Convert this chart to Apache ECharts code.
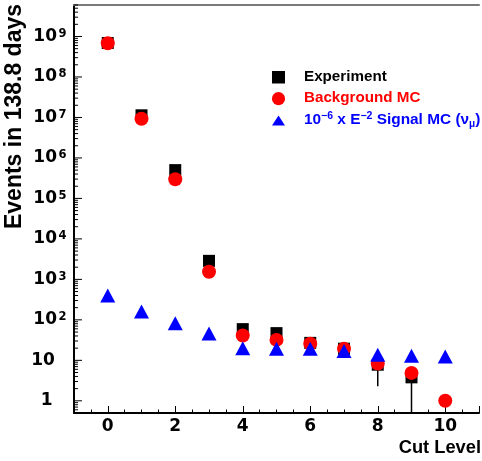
<!DOCTYPE html>
<html><head><meta charset="utf-8">
<script src="https://cdn.jsdelivr.net/npm/echarts@6/dist/echarts.min.js"></script>
<style>html,body{margin:0;padding:0;background:#fff}#c{width:482px;height:461px}</style>
</head><body><div id="c"></div>
<script>
// ---- data ----
const cutLevels  = [0, 1, 2, 3, 4, 5, 6, 7, 8, 9, 10];
const experiment = [6.9e8, 1.13e7, 5.0e5, 2870, 59, 47, 27, 19.4, 7.8, 3.8, null];
const background = [6.8e8, 9.3e6, 2.97e5, 1540, 41, 32, 25.6, 19.4, 8.3, 4.9, 1.0];
const signal     = [400, 161, 83, 46, 20, 19.3, 19.3, 17, 13.7, 13, 12.4];
const errCuts = [8, 9];
const errLow  = [2.3, 0.3];
const errHigh = [10.8, 5.9];
const xTickLabels = [0, 2, 4, 6, 8, 10];
const xRange = [-1, 11];
const yRange = [0.5, 6e9];
const yDecades = [-1, 0, 1, 2, 3, 4, 5, 6, 7, 8, 9];
const legendNames = ['Experiment', 'Background MC', '10{sup|\u22126} x E{sup|\u22122} Signal MC (\u03bd{sub|\u03bc})'];

const TFONT = '"DejaVu Sans", Verdana, sans-serif';
const FONT = '"Liberation Sans", Arial, Helvetica, sans-serif';
const lg = v => Math.log10(v);
const yMin = lg(yRange[0]), yMax = lg(yRange[1]);

function pts(arr) {
  const out = [];
  cutLevels.forEach((c, i) => { if (arr[i] != null) out.push([c, lg(arr[i])]); });
  return out;
}

const chart = echarts.init(document.getElementById('c'), null, {renderer: 'canvas'});
const option = {
  animation: false,
  backgroundColor: '#fff',
  grid: {left: 74, right: 0, top: 5, bottom: 48},
  xAxis: [
    {
      type: 'value', min: xRange[0], max: xRange[1], position: 'bottom',
      axisLine: {onZero: false, lineStyle: {color: '#000', width: 2}},
      axisTick: {inside: true, length: 7, lineStyle: {color: '#000', width: 1}},
      splitLine: {show: false},
      axisLabel: {
        margin: 5, color: '#000', fontFamily: TFONT, fontSize: 17, fontWeight: 'bold',
        formatter: v => xTickLabels.indexOf(v) >= 0 ? String(v) : ''
      }
    },
    {
      type: 'value', min: xRange[0], max: xRange[1], interval: 0.5, position: 'bottom',
      axisLine: {show: false, onZero: false},
      axisTick: {inside: true, length: 3.5, lineStyle: {color: '#000', width: 1}},
      axisLabel: {show: false}, splitLine: {show: false}
    },
    {
      type: 'value', min: xRange[0], max: xRange[1], position: 'top',
      axisLine: {onZero: false, lineStyle: {color: '#7a7a7a', width: 2}},
      axisTick: {show: false}, axisLabel: {show: false}, splitLine: {show: false}
    }
  ],
  yAxis: [{
    type: 'value', min: yMin, max: yMax, splitNumber: 10,
    axisLine: {onZero: false, lineStyle: {color: '#000', width: 2}},
    axisTick: {show: false},
    splitLine: {show: false},
    axisLabel: {
      margin: 7.5, color: '#000',
      formatter: v => {
        const n = Math.round(v);
        if (Math.abs(v - n) > 1e-6) return '';
        if (n === 0) return '{p1|1}';
        if (n === 1) return '{p10|10}';
        return '{b|10}{s|' + n + '}';
      },
      rich: {
        b:   {fontFamily: TFONT, fontSize: 17, fontWeight: 'bold', lineHeight: 17, color: '#000'},
        p10: {fontFamily: TFONT, fontSize: 17, fontWeight: 'bold', lineHeight: 17, color: '#000', padding: [0, 11.7, 0, 0]},
        p1:  {fontFamily: TFONT, fontSize: 17, fontWeight: 'bold', lineHeight: 17, color: '#000', padding: [0, 13.8, 0, 0]},
        s:   {fontFamily: TFONT, fontSize: 11.5, fontWeight: 'bold', lineHeight: 4, verticalAlign: 'top', color: '#000', padding: [0, 0, 0, 1.5]}
      }
    }
  }],
  graphic: [
    {type: 'text', x: 15, y: 4, rotation: Math.PI / 2, silent: true,
     style: {text: 'Events in 138.8 days', font: 'bold 23px ' + FONT, fill: '#000',
             align: 'right', verticalAlign: 'middle', textAlign: 'right', textVerticalAlign: 'middle'}},
    {type: 'text', x: 481, y: 448, silent: true,
     style: {text: 'Cut Level', font: 'bold 18.3px ' + FONT, fill: '#000',
             align: 'right', verticalAlign: 'middle', textAlign: 'right', textVerticalAlign: 'middle'}},
    // legend
    {type: 'rect', silent: true, shape: {x: 272, y: 71, width: 13, height: 12.5}, style: {fill: '#000'}},
    {type: 'circle', silent: true, shape: {cx: 278.5, cy: 98.7, r: 6.6}, style: {fill: '#ff0000'}},
    {type: 'polygon', silent: true, shape: {points: [[272, 125.5], [278.5, 115.5], [285, 125.5]]}, style: {fill: '#0000ff'}},
    {type: 'text', x: 304, y: 77, silent: true,
     style: {text: legendNames[0], font: 'bold 15.2px ' + FONT, fill: '#000', align: 'left', verticalAlign: 'middle'}},
    {type: 'text', x: 304, y: 98.3, silent: true,
     style: {text: legendNames[1], font: 'bold 15.2px ' + FONT, fill: '#ff0000', align: 'left', verticalAlign: 'middle'}},
    {type: 'text', x: 304, y: 119.8, silent: true,
     style: {text: legendNames[2], fontFamily: FONT, fontSize: 15.4, fontWeight: 'bold', lineHeight: 18, fill: '#0000ff', align: 'left', verticalAlign: 'middle',
             rich: {
               sup: {fontFamily: FONT, fontSize: 10.5, fontWeight: 'bold', lineHeight: 10, verticalAlign: 'top', fill: '#0000ff'},
               sub: {fontFamily: FONT, fontSize: 10, fontWeight: 'bold', lineHeight: 8, verticalAlign: 'bottom', fill: '#0000ff'}
             }}}
  ],
  series: [
    {
      name: 'yticks', type: 'custom', silent: true, clip: false, z: 5,
      data: yDecades.map(d => [xRange[0], d]),
      encode: {x: 0, y: 1},
      renderItem: (params, api) => {
        const d = api.value(1);
        const children = [];
        for (let k = 1; k <= 9; k++) {
          const v = d + Math.log10(k);
          if (v < yMin || v > yMax) continue;
          const p = api.coord([xRange[0], v]);
          const len = k === 1 ? 8 : 4;
          children.push({type: 'line', shape: {x1: p[0], y1: p[1], x2: p[0] + len, y2: p[1]},
                         style: {stroke: '#000', lineWidth: 1}});
        }
        return {type: 'group', children};
      }
    },
    {
      name: 'errors', type: 'custom', silent: true, clip: true, z: 1,
      data: errCuts.map((c, i) => [c, lg(errLow[i]), lg(errHigh[i])]),
      encode: {x: 0, y: [1, 2]},
      renderItem: (params, api) => {
        const a = api.coord([api.value(0), api.value(1)]);
        const b = api.coord([api.value(0), api.value(2)]);
        return {type: 'line', shape: {x1: a[0], y1: a[1], x2: b[0], y2: b[1]},
                style: {stroke: '#000', lineWidth: 1.5}};
      }
    },
    {
      name: 'Experiment', type: 'scatter', symbol: 'rect', symbolSize: 12, z: 2,
      itemStyle: {color: '#000000', opacity: 1}, emphasis: {disabled: true}, silent: true,
      data: pts(experiment)
    },
    {
      name: 'Background MC', type: 'scatter', symbol: 'circle', symbolSize: 14, z: 3,
      itemStyle: {color: '#ff0000', opacity: 1}, emphasis: {disabled: true}, silent: true,
      data: pts(background)
    },
    {
      name: 'Signal MC', type: 'scatter', symbol: 'triangle', symbolSize: [15, 14], z: 4,
      itemStyle: {color: '#0000ff', opacity: 1}, emphasis: {disabled: true}, silent: true,
      data: pts(signal)
    }
  ]
};
chart.setOption(option);
</script>
</body></html>
